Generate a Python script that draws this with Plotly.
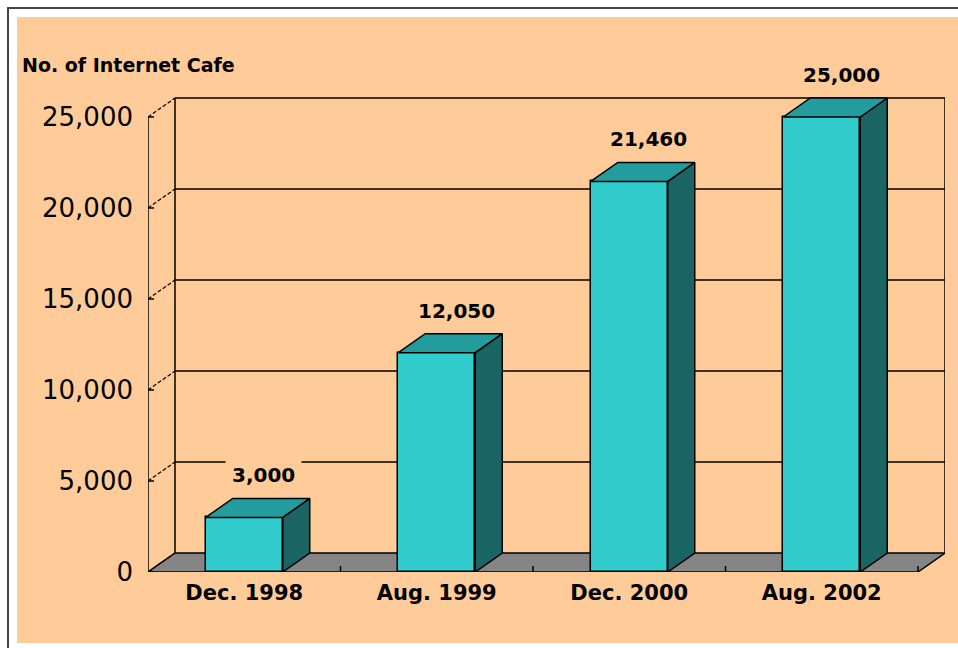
import plotly.graph_objects as go

categories = ["Dec. 1998", "Aug. 1999", "Dec. 2000", "Aug. 2002"]
cafes = [3000, 12050, 21460, 25000]
y_ticks = [0, 5000, 10000, 15000, 20000, 25000]
title_text = "No. of Internet Cafe"

# geometry (pixel-calibrated)
W, H = 958, 648
L, R, T, B = 148, 13, 88, 76
PX_PER_Y = 0.0182
PX_PER_X = 192.5
DX = 27 / PX_PER_X          # depth offset in x units
DY = 19 / PX_PER_Y          # depth offset in y units
BW = 0.4                    # bar width
XMIN, XMAX = -0.5, len(categories) - 0.5 + DX
YMAX = (H - T - B) / PX_PER_Y
YTOP = y_ticks[-1]

PEACH = "#FFCC99"
FRONT = "#33CCCC"
TOP = "#229C9C"
SIDE = "#1A6464"
FLOOR = "#858585"

pw = W - L - R
ph = H - T - B
def px2paper_x(px): return (px - L) / pw
def py2paper_y(py): return (H - B - py) / ph

fig = go.Figure()

# front faces
fig.add_trace(go.Bar(
    x=list(range(len(categories))), y=cafes, width=BW,
    marker=dict(color=FRONT, line=dict(color="black", width=1.5)),
    hoverinfo="skip", showlegend=False))

# side and top faces
sx, sy, tx, ty = [], [], [], []
for i, v in enumerate(cafes):
    r = i + BW / 2
    l = i - BW / 2
    sx += [r, r + DX, r + DX, r, r, None]
    sy += [0, DY, v + DY, v, 0, None]
    tx += [l, l + DX, r + DX, r, l, None]
    ty += [v, v + DY, v + DY, v, v, None]
fig.add_trace(go.Scatter(x=sx, y=sy, mode="lines", fill="toself", fillcolor=SIDE,
                         line=dict(color="black", width=1.5), hoverinfo="skip",
                         showlegend=False, cliponaxis=False))
fig.add_trace(go.Scatter(x=tx, y=ty, mode="lines", fill="toself", fillcolor=TOP,
                         line=dict(color="black", width=1.5), hoverinfo="skip",
                         showlegend=False, cliponaxis=False))

shapes = []
# background peach panel and frame
shapes.append(dict(type="rect", xref="paper", yref="paper", layer="below",
                   x0=px2paper_x(17), x1=px2paper_x(970), y0=py2paper_y(643), y1=py2paper_y(17),
                   fillcolor=PEACH, line=dict(width=0)))
shapes.append(dict(type="line", xref="paper", yref="paper", layer="below",
                   x0=px2paper_x(8), x1=px2paper_x(8), y0=py2paper_y(660), y1=py2paper_y(7),
                   line=dict(color="#444444", width=2)))
shapes.append(dict(type="line", xref="paper", yref="paper", layer="below",
                   x0=px2paper_x(7), x1=px2paper_x(970), y0=py2paper_y(8), y1=py2paper_y(8),
                   line=dict(color="#444444", width=2)))

# floor
x_front_end = len(categories) - 0.5
shapes.append(dict(type="path", layer="below", xref="x", yref="y",
                   path=f"M {XMIN},0 L {x_front_end},0 L {x_front_end + DX},{DY} L {XMIN + DX},{DY} Z",
                   fillcolor=FLOOR, line=dict(color="black", width=1.5)))
# floor category ticks
for k in range(1, len(categories) + 1):
    xb = k - 0.5
    shapes.append(dict(type="line", layer="below", xref="x", yref="y",
                       x0=xb, x1=xb, y0=0, y1=6 / PX_PER_Y,
                       line=dict(color="black", width=1.5)))

# back wall grid lines
for v in y_ticks[1:]:
    shapes.append(dict(type="line", layer="below", xref="x", yref="y",
                       x0=XMIN + DX, x1=XMAX, y0=v + DY, y1=v + DY,
                       line=dict(color="black", width=1.5)))
# diagonal connectors and small ticks on the front axis
for v in y_ticks:
    shapes.append(dict(type="line", layer="below", xref="x", yref="y",
                       x0=XMIN, x1=XMIN + DX, y0=v, y1=v + DY,
                       line=dict(color="black", width=1.2, dash="4px,2px")))
    shapes.append(dict(type="line", layer="below", xref="x", yref="y",
                       x0=XMIN, x1=XMIN + 6 / PX_PER_X, y0=v, y1=v,
                       line=dict(color="black", width=1.5)))
# walls
shapes.append(dict(type="line", layer="below", xref="x", yref="y",
                   x0=XMIN + DX, x1=XMIN + DX, y0=DY, y1=YTOP + DY,
                   line=dict(color="black", width=1.5)))
shapes.append(dict(type="line", layer="below", xref="x", yref="y",
                   x0=XMAX, x1=XMAX, y0=DY, y1=YTOP + DY,
                   line=dict(color="black", width=1.5)))
shapes.append(dict(type="line", layer="below", xref="x", yref="y",
                   x0=XMIN, x1=XMIN, y0=0, y1=YTOP,
                   line=dict(color="black", width=1.5)))

annotations = []
for i, v in enumerate(cafes):
    annotations.append(dict(x=i + 0.1, y=v + DY, xref="x", yref="y",
                            text=f"<b>{v:,}</b>", showarrow=False, yanchor="middle", yshift=23,
                            font=dict(family="DejaVu Sans", size=20, color="black"),
                            bgcolor=PEACH, borderpad=6))
annotations.append(dict(x=px2paper_x(20), y=py2paper_y(65), xref="paper", yref="paper",
                        xanchor="left", yanchor="middle", showarrow=False,
                        text=f"<b>{title_text}</b>",
                        font=dict(family="DejaVu Sans", size=19, color="black")))

fig.update_layout(
    width=W, height=H,
    margin=dict(l=L, r=R, t=T, b=B, autoexpand=False),
    paper_bgcolor="white", plot_bgcolor="rgba(0,0,0,0)",
    shapes=shapes, annotations=annotations,
    showlegend=False, bargap=0,
    xaxis=dict(range=[XMIN, XMAX], tickmode="array", tickvals=list(range(len(categories))),
               ticktext=categories, showgrid=False, zeroline=False, showline=False,
               ticks="", ticklabelstandoff=6,
               tickfont=dict(family="DejaVu Sans", size=21, color="black", weight="bold"),
               fixedrange=True),
    yaxis=dict(range=[0, YMAX], tickmode="array", tickvals=y_ticks,
               ticktext=[f"{v:,}" for v in y_ticks], showgrid=False, zeroline=False,
               showline=False, ticks="", ticklabelstandoff=14,
               tickfont=dict(family="DejaVu Sans", size=26, color="black"),
               fixedrange=True),
)

fig.write_html(
    "out.html",
    config={"displayModeBar": False},
    post_script="document.body.style.margin='0';document.body.style.overflow='hidden';",
)
